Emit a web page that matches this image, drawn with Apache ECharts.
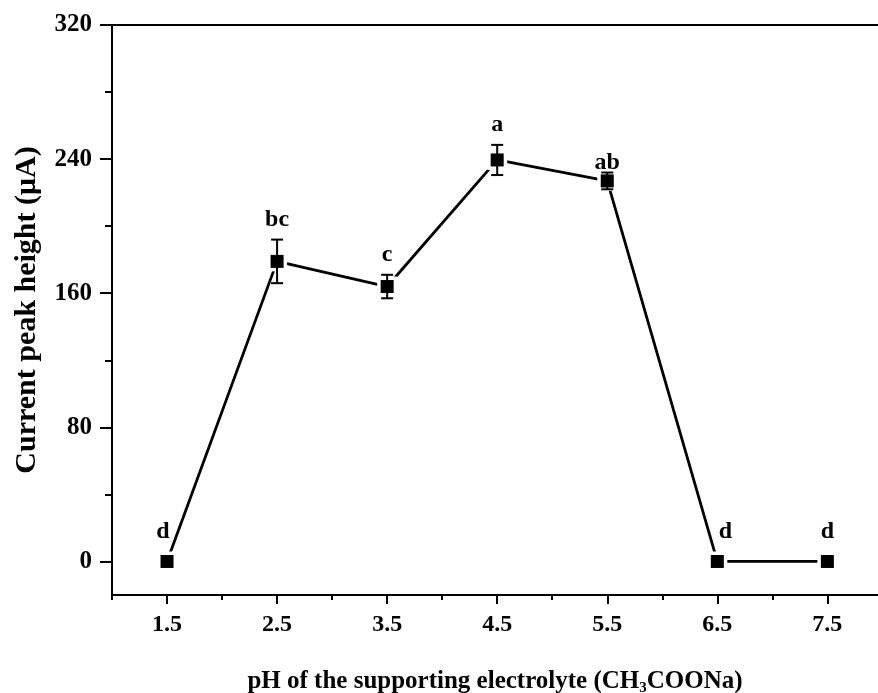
<!DOCTYPE html>
<html>
<head>
<meta charset="utf-8">
<script src="https://cdn.jsdelivr.net/npm/echarts@6/dist/echarts.min.js"></script>
<style>html,body{margin:0;padding:0;background:#fff;}#c{width:878px;height:693px;}</style>
</head>
<body>
<div id="c"></div>
<script>
// ---- data ----
var phValues = [1.5, 2.5, 3.5, 4.5, 5.5, 6.5, 7.5];
var peakHeight = [0, 179, 164, 239.5, 227, 0, 0];
var peakError = [0, 13, 7, 9, 5, 0, 0];
var letters = ['d', 'bc', 'c', 'a', 'ab', 'd', 'd'];
var xMajorTicks = [1.5, 2.5, 3.5, 4.5, 5.5, 6.5, 7.5];
var xMinorTicks = [1, 2, 3, 4, 5, 6, 7];
var yMajorTicks = [0, 80, 160, 240, 320];
var yMinorTicks = [40, 120, 200, 280];

var FONT = "'Liberation Serif','Times New Roman',serif";
var labelShift = {0: [-4, 0], 4: [0, 10], 5: [8, 0]};

var points = phValues.map(function (x, i) { return [x, peakHeight[i]]; });
var errData = phValues.map(function (x, i) { return [x, peakHeight[i], peakError[i]]; });
var letterData = phValues.map(function (x, i) {
  var item = { value: [x, peakHeight[i] + peakError[i]], label: { distance: peakError[i] ? 8 : 18 } };
  if (labelShift[i]) item.label.offset = labelShift[i];
  return item;
});

var chart = echarts.init(document.getElementById('c'), null, { renderer: 'canvas' });
var axisLine = { show: true, onZero: false, lineStyle: { color: '#000', width: 2 } };
var XMIN = 1, XMAX = 7.96, YMIN = -20, YMAX = 320;
var option = {
  backgroundColor: '#fff',
  animation: false,
  grid: { left: 112, top: 25, right: 0, bottom: 98, outerBoundsMode: 'none', containLabel: false },
  xAxis: [{
    type: 'value', min: XMIN, max: XMAX, position: 'bottom',
    axisLine: axisLine,
    splitLine: { show: false },
    axisTick: { show: true, customValues: xMajorTicks, length: 9, lineStyle: { color: '#000', width: 2 } },
    axisLabel: { show: true, customValues: xMajorTicks, margin: 18, color: '#000', fontFamily: FONT, fontWeight: 'bold', fontSize: 24,
      formatter: function (v) { return v.toFixed(1); } },
    name: 'pH of the supporting electrolyte (CH{sub|3}COONa)',
    nameLocation: 'middle', nameGap: 72,
    nameTextStyle: { color: '#000', fontFamily: FONT, fontWeight: 'bold', fontSize: 25,
      rich: { sub: { fontFamily: FONT, fontWeight: 'bold', fontSize: 15, verticalAlign: 'bottom', padding: [14, 0, 0, 0], color: '#000' } } }
  }, {
    type: 'value', min: XMIN, max: XMAX, position: 'bottom', gridIndex: 0,
    axisLine: { show: false, onZero: false }, splitLine: { show: false },
    axisTick: { show: true, customValues: xMinorTicks, length: 5, lineStyle: { color: '#000', width: 2 } },
    axisLabel: { show: false }
  }, {
    type: 'value', min: XMIN, max: XMAX, position: 'top', gridIndex: 0,
    axisLine: { show: true, onZero: false, lineStyle: { color: '#000', width: 2 } }, splitLine: { show: false },
    axisTick: { show: false }, axisLabel: { show: false }
  }],
  yAxis: [{
    type: 'value', min: YMIN, max: YMAX, position: 'left',
    axisLine: axisLine,
    splitLine: { show: false },
    axisTick: { show: true, customValues: yMajorTicks, length: 12, lineStyle: { color: '#000', width: 2 } },
    axisLabel: { show: true, customValues: yMajorTicks, margin: 20, color: '#000', fontFamily: FONT, fontWeight: 'bold', fontSize: 25 },
    name: 'Current peak height (μA)',
    nameLocation: 'middle', nameGap: 70,
    nameTextStyle: { color: '#000', fontFamily: FONT, fontWeight: 'bold', fontSize: 30 }
  }, {
    type: 'value', min: YMIN, max: YMAX, position: 'left',
    axisLine: { show: false, onZero: false }, splitLine: { show: false },
    axisTick: { show: true, customValues: yMinorTicks, length: 7, lineStyle: { color: '#000', width: 2 } },
    axisLabel: { show: false }
  }],
  series: [{
    type: 'line', data: points, xAxisIndex: 0, yAxisIndex: 0,
    symbol: 'rect', symbolSize: 20, showAllSymbol: true,
    itemStyle: { color: '#fff', borderWidth: 0, opacity: 1 },
    lineStyle: { color: '#000', width: 2.8 }, z: 2
  }, {
    type: 'scatter', data: points, symbol: 'rect', symbolSize: 13,
    itemStyle: { color: '#000', opacity: 1 }, z: 3
  }, {
    type: 'custom', data: errData, z: 4,
    encode: { x: 0, y: 1 },
    renderItem: function (params, api) {
      var x = api.value(0), y = api.value(1), e = api.value(2);
      if (!e) return null;
      var hi = api.coord([x, y + e]), lo = api.coord([x, y - e]);
      var hw = 6;
      var st = { stroke: '#000', lineWidth: 2 };
      return { type: 'group', children: [
        { type: 'line', shape: { x1: hi[0], y1: hi[1], x2: lo[0], y2: lo[1] }, style: st },
        { type: 'line', shape: { x1: hi[0] - hw, y1: hi[1], x2: hi[0] + hw, y2: hi[1] }, style: st },
        { type: 'line', shape: { x1: lo[0] - hw, y1: lo[1], x2: lo[0] + hw, y2: lo[1] }, style: st }
      ] };
    }
  }, {
    type: 'scatter', data: letterData, symbolSize: 0, z: 5, silent: true,
    itemStyle: { opacity: 1 },
    label: { show: true, position: 'top', distance: 8, color: '#000', fontFamily: FONT, fontWeight: 'bold', fontSize: 24,
      formatter: function (p) { return letters[p.dataIndex]; } }
  }]
};
chart.setOption(option);
</script>
</body>
</html>
